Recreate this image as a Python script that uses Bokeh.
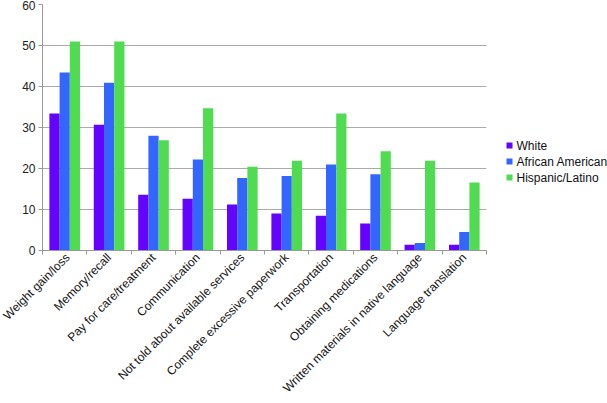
import math
import numpy as np
from bokeh.plotting import figure
from bokeh.layouts import row
from bokeh.core.properties import value
from bokeh.models import Range1d, FixedTicker, CustomJSTickFormatter
from bokeh.embed import file_html
from bokeh.resources import INLINE

categories = [
    "Weight gain/loss",
    "Memory/recall",
    "Pay for care/treatment",
    "Communication",
    "Not told about available services",
    "Complete excessive paperwork",
    "Transportation",
    "Obtaining medications",
    "Written materials in native language",
    "Language translation",
]
series_names = ["White", "African American", "Hispanic/Latino"]
white = [33.4, 30.7, 13.6, 12.6, 11.2, 9.0, 8.5, 6.6, 1.4, 1.4]
african_american = [43.4, 40.9, 28.0, 22.2, 17.7, 18.2, 21.0, 18.6, 1.8, 4.5]
hispanic_latino = [51.0, 51.0, 26.9, 34.7, 20.4, 21.9, 33.4, 24.2, 21.9, 16.6]
y_ticks = [0, 10, 20, 30, 40, 50, 60]

colors = ["#6404FF", "#3366FF", "#4FDC50"]
FONT = "Liberation Sans"

p = figure(
    width=490, height=403,
    x_range=Range1d(0, len(categories)), y_range=Range1d(0, 60),
    output_backend="svg", toolbar_location=None,
    min_border_left=42, min_border_top=4, min_border_right=4, min_border_bottom=0,
)
p.outline_line_color = None

centers = np.arange(len(categories)) + 0.5
offsets = [-0.23, 0.0, 0.23]
for vals, col, off in zip([white, african_american, hispanic_latino], colors, offsets):
    p.vbar(x=centers + off, top=vals, width=0.23, fill_color=col, line_color=None)

# x axis
p.xaxis.ticker = FixedTicker(ticks=list(centers), minor_ticks=list(range(len(categories) + 1)))
p.xaxis.formatter = CustomJSTickFormatter(args=dict(labels=categories),
                                          code="return labels[Math.floor(tick)];")
p.xaxis.major_label_orientation = math.pi / 4
p.xaxis.major_tick_out = 0
p.xaxis.major_tick_in = 0
p.xaxis.minor_tick_out = 4
p.xaxis.minor_tick_in = 0
p.xaxis.minor_tick_line_color = "#999999"
p.xaxis.axis_line_color = "#999999"
p.xaxis.major_label_text_font = FONT
p.xaxis.major_label_text_font_size = "12px"
p.xaxis.major_label_text_color = "#111111"
p.xaxis.major_label_standoff = 1

# y axis
p.yaxis.ticker = FixedTicker(ticks=y_ticks)
p.yaxis.minor_tick_line_color = None
p.yaxis.major_tick_out = 4
p.yaxis.major_tick_in = 0
p.yaxis.major_tick_line_color = "#999999"
p.yaxis.axis_line_color = "#999999"
p.yaxis.major_label_text_font = FONT
p.yaxis.major_label_text_font_size = "12px"
p.yaxis.major_label_text_color = "#222222"
p.yaxis.major_label_standoff = 3

p.xgrid.grid_line_color = None
p.ygrid.ticker = FixedTicker(ticks=y_ticks)
p.ygrid.grid_line_color = "#aaaaaa"

# legend panel: a small figure whose frame is aligned with the main frame;
# its ranges are set so one unit = one screen pixel (y downward)
LW, LH = 117, 403
FRAME_TOP, FRAME_BOTTOM = 4, 250
lg = figure(
    width=LW, height=LH, x_range=Range1d(0, LW), y_range=Range1d(FRAME_BOTTOM, FRAME_TOP),
    output_backend="svg", toolbar_location=None,
    x_axis_location=None, y_axis_location=None,
    min_border=0, min_border_left=0, min_border_right=0, min_border_top=0, min_border_bottom=0,
)
lg.grid.visible = False
lg.outline_line_color = None
row_y = 145 + 16 * np.arange(len(series_names))
lg.scatter(x=[19] * len(series_names), y=row_y, marker="square", size=6,
           fill_color=colors, line_color=None)
lg.text(x=[26] * len(series_names), y=row_y, text=series_names,
        text_font=value(FONT), text_font_size="12px", text_color="#111111",
        text_baseline="middle", text_align="left")

layout = row(p, lg, spacing=0)
open("out.html", "w").write(file_html(layout, INLINE))
